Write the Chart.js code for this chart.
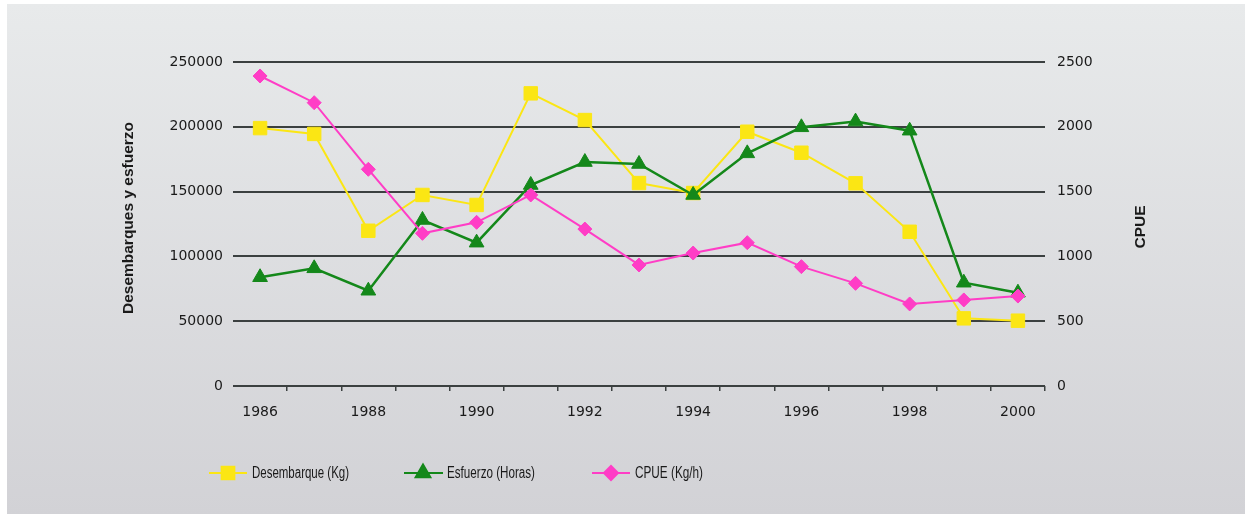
<!DOCTYPE html>
<html>
<head>
<meta charset="utf-8">
<script src="https://cdn.jsdelivr.net/npm/chart.js@4"></script>
<style>
  html, body { margin: 0; padding: 0; background: #ffffff; }
  #wrap { width: 1245px; height: 514px; }
</style>
</head>
<body>
<div id="wrap"><canvas id="c" width="1245" height="514"></canvas></div>
<script>
// ---- data ----
const years = ['1986','1987','1988','1989','1990','1991','1992','1993','1994','1995','1996','1997','1998','1999','2000'];
const desembarque = [199000, 194500, 119800, 147400, 139700, 225800, 205200, 156600, 148900, 196200, 180000, 156400, 119000, 52200, 50400];
const esfuerzo = [83900, 90800, 73500, 128100, 110600, 155100, 172800, 171300, 147400, 179500, 199600, 204000, 197000, 79700, 72000];
const cpue = [2392, 2186, 1672, 1178, 1263, 1474, 1211, 934, 1026, 1106, 921, 792, 633, 664, 694];
const seriesNames = ['Desembarque (Kg)', 'Esfuerzo (Horas)', 'CPUE (Kg/h)'];
const leftTitle = 'Desembarques y esfuerzo';
const rightTitle = 'CPUE';

const YELLOW = '#fbe614';
const GREEN = '#14881a';
const PINK = '#ff3dc6';
const TEXT = '#1a1a1a';
const GRID = '#3b4040';

const bgPlugin = {
  id: 'bg',
  beforeDraw(chart) {
    const ctx = chart.ctx;
    ctx.save();
    ctx.fillStyle = '#ffffff';
    ctx.fillRect(0, 0, chart.width, chart.height);
    const g = ctx.createLinearGradient(0, 4, 0, chart.height);
    g.addColorStop(0, '#e8eaeb');
    g.addColorStop(1, '#d2d2d6');
    ctx.fillStyle = g;
    ctx.fillRect(7, 4, chart.width - 7, chart.height - 4);
    ctx.restore();
  }
};

const decoPlugin = {
  id: 'deco',
  afterDraw(chart) {
    const ctx = chart.ctx;
    ctx.save();
    // axis titles
    ctx.fillStyle = TEXT;
    ctx.font = 'bold 15.5px "Liberation Sans", Arial, sans-serif';
    ctx.textAlign = 'center';
    ctx.textBaseline = 'middle';
    ctx.save();
    ctx.translate(129, 218);
    ctx.rotate(-Math.PI / 2);
    ctx.fillText(leftTitle, 0, 0);
    ctx.restore();
    ctx.save();
    ctx.translate(1141, 227);
    ctx.rotate(-Math.PI / 2);
    ctx.fillText(rightTitle, 0, 0);
    ctx.restore();

    // legend
    const items = [
      { name: seriesNames[0], color: YELLOW, style: 'rect', r: 9, x0: 209, x1: 247, mx: 228, tx: 252, tw: 97 },
      { name: seriesNames[1], color: GREEN, style: 'triangle', r: 8.5, x0: 404, x1: 443, mx: 423, tx: 447, tw: 88 },
      { name: seriesNames[2], color: PINK, style: 'rectRot', r: 7, x0: 592, x1: 630, mx: 611, tx: 635, tw: 68 }
    ];
    const ly = 473;
    items.forEach(it => {
      ctx.strokeStyle = it.color;
      ctx.lineWidth = 2;
      ctx.beginPath();
      ctx.moveTo(it.x0, ly);
      ctx.lineTo(it.x1, ly);
      ctx.stroke();
      ctx.fillStyle = it.color;
      Chart.helpers.drawPoint(ctx, { pointStyle: it.style, radius: it.r, borderWidth: 1, rotation: 0 }, it.mx, ly);
      ctx.fill();
      ctx.fillStyle = TEXT;
      ctx.font = '16px "Liberation Sans", Arial, sans-serif';
      ctx.textAlign = 'left';
      ctx.textBaseline = 'middle';
      const w = ctx.measureText(it.name).width;
      ctx.save();
      ctx.translate(it.tx, ly + 1);
      ctx.scale(it.tw / w, 1);
      ctx.fillText(it.name, 0, 0);
      ctx.restore();
    });
    ctx.restore();
  }
};

const tickFont = { family: '"DejaVu Sans", sans-serif', size: 14 };
const plain = (v) => String(v);

new Chart(document.getElementById('c'), {
  type: 'line',
  data: {
    labels: years,
    datasets: [
      {
        label: seriesNames[0], data: desembarque, yAxisID: 'y',
        borderColor: YELLOW, backgroundColor: YELLOW, borderWidth: 2,
        pointStyle: 'rect', pointRadius: 9.5, pointHoverRadius: 9.5, pointBorderWidth: 1,
        pointBackgroundColor: YELLOW, pointBorderColor: YELLOW, tension: 0, order: 3
      },
      {
        label: seriesNames[1], data: esfuerzo, yAxisID: 'y',
        borderColor: GREEN, backgroundColor: GREEN, borderWidth: 2.5,
        pointStyle: 'triangle', pointRadius: 8.5, pointHoverRadius: 8.5, pointBorderWidth: 1,
        pointBackgroundColor: GREEN, pointBorderColor: GREEN, tension: 0, order: 2
      },
      {
        label: seriesNames[2], data: cpue, yAxisID: 'y1',
        borderColor: PINK, backgroundColor: PINK, borderWidth: 2,
        pointStyle: 'rectRot', pointRadius: 7, pointHoverRadius: 7, pointBorderWidth: 1,
        pointBackgroundColor: PINK, pointBorderColor: PINK, tension: 0, order: 1
      }
    ]
  },
  options: {
    responsive: false,
    animation: false,
    events: [],
    layout: { padding: { top: 62, left: 0, right: 0, bottom: 0 } },
    plugins: { legend: { display: false }, tooltip: { enabled: false }, title: { display: false } },
    scales: {
      x: {
        type: 'category',
        offset: true,
        border: { display: false },
        grid: {
          offset: true,
          drawOnChartArea: false,
          drawTicks: true,
          tickLength: 5,
          lineWidth: 1.5,
          color: (ctx) => (ctx.index === 0 || ctx.index === years.length) ? 'rgba(0,0,0,0)' : GRID
        },
        ticks: {
          autoSkip: false, maxRotation: 0, minRotation: 0,
          padding: 13, color: TEXT, font: tickFont,
          callback: (v, i) => (i % 2 === 0 ? years[i] : '')
        },
        afterFit: (s) => { s.height = 514 - 386; }
      },
      y: {
        position: 'left',
        min: 0, max: 250000,
        border: { display: false },
        grid: { color: GRID, lineWidth: 2, drawTicks: false },
        ticks: { stepSize: 50000, padding: 10, color: TEXT, font: tickFont, callback: plain },
        afterFit: (s) => { s.width = 233; }
      },
      y1: {
        position: 'right',
        min: 0, max: 2500,
        border: { display: false },
        grid: { drawOnChartArea: false, drawTicks: false },
        ticks: { stepSize: 500, padding: 12, color: TEXT, font: tickFont, callback: plain },
        afterFit: (s) => { s.width = 1245 - 1045; }
      }
    }
  },
  plugins: [bgPlugin, decoPlugin]
});
</script>
</body>
</html>
